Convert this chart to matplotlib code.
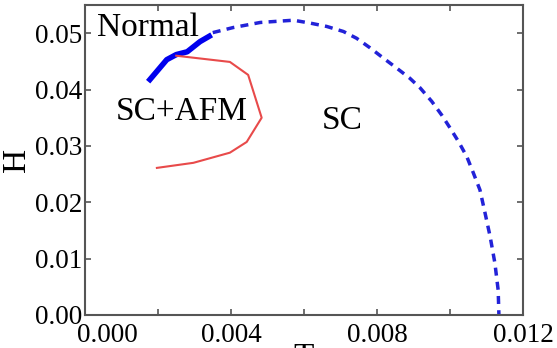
import numpy as np
import matplotlib.pyplot as plt
from matplotlib.ticker import MultipleLocator

plt.rcParams['font.family'] = ['Liberation Serif', 'DejaVu Serif']

# phase boundary, SC -> normal (dashed)
T_sc = [0.0035, 0.00406, 0.0048, 0.00525, 0.00571, 0.00616, 0.00662, 0.00708,
        0.00744, 0.00781, 0.00817, 0.00854, 0.0089, 0.00918, 0.0095, 0.00977,
        0.0100, 0.01023, 0.01046, 0.01064, 0.01082, 0.01096, 0.0111, 0.01123,
        0.01132, 0.01134]
H_sc = [0.0501, 0.0510, 0.0519, 0.0521, 0.0523, 0.0518, 0.0512, 0.0503,
        0.0491, 0.0474, 0.0456, 0.0438, 0.0420, 0.0403, 0.0379, 0.0355,
        0.0332, 0.0308, 0.0281, 0.0252, 0.0222, 0.0181, 0.0139, 0.0092,
        0.0044, 0.0]

# first-order part (thick solid)
T_first = [0.00173, 0.00224, 0.0025, 0.0028, 0.00315, 0.00347]
H_first = [0.0414, 0.0453, 0.0462, 0.0467, 0.0485, 0.0497]

# SC+AFM boundary (red)
T_afm = [0.0025, 0.00397, 0.00447, 0.00484, 0.00443, 0.00397, 0.00297, 0.00197]
H_afm = [0.0460, 0.0449, 0.0426, 0.0350, 0.0307, 0.0288, 0.0270, 0.0261]

fig = plt.figure(figsize=(5.57, 3.48), dpi=100)
ax = fig.add_axes([85/557, 33/348, 438/557, 310/348])

ax.plot(T_sc, H_sc, color='#2222d8', lw=2.5, dashes=(2.3, 1.8))
ax.plot(T_first, H_first, color='#0000ee', lw=4, solid_capstyle='butt')
ax.plot(T_afm, H_afm, color='#e84a4a', lw=1.5)

ax.text(0.00033, 0.0509, 'Normal', fontsize=24, va='center', ha='left')
ax.text(0.00266, 0.0361, 'SC+AFM', fontsize=24, va='center', ha='center')
ax.text(0.00704, 0.0345, 'SC', fontsize=24, va='center', ha='center')

ax.set_xlim(0, 0.012)
ax.set_ylim(0, 0.055)
ax.xaxis.set_major_locator(MultipleLocator(0.004))
ax.xaxis.set_minor_locator(MultipleLocator(0.002))
ax.yaxis.set_major_locator(MultipleLocator(0.01))
# 0.000 label is drawn separately, nudged right of its tick
ax.xaxis.set_major_formatter(plt.FuncFormatter(lambda v, p: '' if abs(v) < 1e-9 else '%.3f' % v))
ax.yaxis.set_major_formatter(plt.FuncFormatter(lambda v, p: '%.2f' % v))
ax.tick_params(which='both', direction='in', top=True, right=True,
               length=4.5, width=1.2, color='#555555', labelsize=19.5)
ax.tick_params(axis='x', pad=6)
ax.tick_params(axis='y', pad=2)
for s in ax.spines.values():
    s.set_color('#555555')
    s.set_linewidth(1.5)

ax.annotate('0.000', xy=(0, 0), xycoords=ax.get_xaxis_transform(),
            xytext=(15.8, -6), textcoords='offset points',
            ha='center', va='top', fontsize=19.5)

ax.set_xlabel('T', fontsize=24, labelpad=-4)
ax.set_ylabel('H', fontsize=24, labelpad=2)

fig.savefig('out.png', dpi=100)
